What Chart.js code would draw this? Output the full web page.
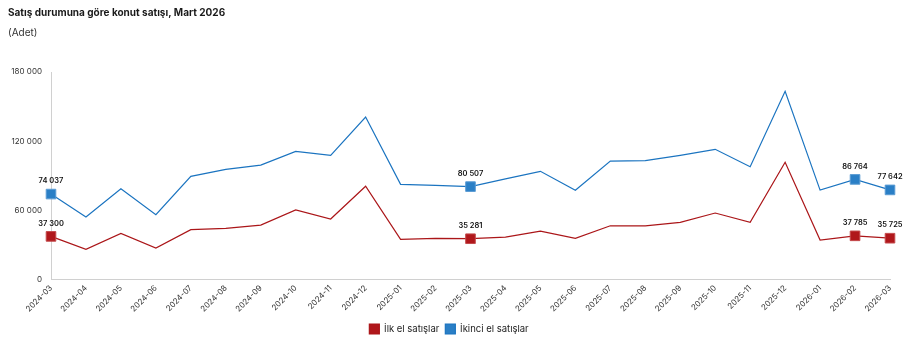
<!DOCTYPE html>
<html>
<head>
<meta charset="utf-8">
<script src="https://cdn.jsdelivr.net/npm/chart.js@4"></script>
<style>
  html, body { margin: 0; padding: 0; background: #fff; }
  #wrap { width: 916px; height: 360px; }
</style>
</head>
<body>
<div id="wrap"><canvas id="chart" width="916" height="360"></canvas></div>
<script>
const months = ['2024-03','2024-04','2024-05','2024-06','2024-07','2024-08','2024-09','2024-10','2024-11','2024-12',
  '2025-01','2025-02','2025-03','2025-04','2025-05','2025-06','2025-07','2025-08','2025-09','2025-10','2025-11','2025-12',
  '2026-01','2026-02','2026-03'];
const ilkEl = [37300, 26000, 39900, 27200, 43100, 44300, 47100, 60200, 52400, 80800,
  34700, 35600, 35281, 36700, 41900, 35600, 46500, 46500, 49500, 57600, 49500, 101600,
  34100, 37785, 35725];
const ikinciEl = [74037, 54100, 78700, 56100, 89400, 95500, 99200, 111100, 107700, 140900,
  82500, 81600, 80507, 87200, 93800, 77300, 102700, 103000, 107700, 112900, 97800, 163200,
  77500, 86764, 77642];
const yTicks = [0, 60000, 120000, 180000];
const markedIdx = [0, 12, 23, 24];

const fmt = v => String(v).replace(/\B(?=(\d{3})+(?!\d))/g, ' ');
const FONT = 'Inter, "Noto Sans", sans-serif';

const radii = months.map((m, i) => markedIdx.includes(i) ? 6.8 : 0);

// numbers above the marked points
const valueLabels = {
  id: 'valueLabels',
  afterDatasetsDraw(chart) {
    const ctx = chart.ctx;
    ctx.save();
    ctx.font = '600 7.5px ' + FONT;
    ctx.fillStyle = '#111';
    ctx.textAlign = 'center';
    ctx.textBaseline = 'middle';
    chart.data.datasets.forEach((ds, di) => {
      const meta = chart.getDatasetMeta(di);
      markedIdx.forEach(i => {
        const el = meta.data[i];
        ctx.fillText(fmt(ds.data[i]), el.x, el.y - 13);
      });
    });
    ctx.restore();
  }
};

new Chart(document.getElementById('chart'), {
  type: 'line',
  data: {
    labels: months,
    datasets: [{
      label: 'İlk el satışlar',
      data: ilkEl,
      borderColor: '#ab1619',
      backgroundColor: '#b0171b',
      borderWidth: 1.2,
      pointStyle: 'rect',
      pointRadius: radii,
      pointHoverRadius: radii,
      pointBackgroundColor: '#b0171b',
      pointBorderColor: '#c44a4c',
      pointBorderWidth: 1,
      tension: 0
    }, {
      label: 'İkinci el satışlar',
      data: ikinciEl,
      borderColor: '#1b74c0',
      backgroundColor: '#2a7fc6',
      borderWidth: 1.2,
      pointStyle: 'rect',
      pointRadius: radii,
      pointHoverRadius: radii,
      pointBackgroundColor: '#2a7fc6',
      pointBorderColor: '#5b9cd4',
      pointBorderWidth: 1,
      tension: 0
    }]
  },
  options: {
    responsive: false,
    animation: false,
    layout: { padding: { left: 8, right: 26, top: 6, bottom: 16 } },
    scales: {
      x: {
        offset: false,
        grid: { display: false, drawTicks: false },
        border: { display: true, color: '#d0d0d0' },
        ticks: {
          autoSkip: false,
          maxRotation: 45,
          minRotation: 45,
          color: '#333',
          font: { family: FONT, size: 8 },
          padding: 4
        }
      },
      y: {
        min: 0,
        max: 180000,
        afterBuildTicks: axis => { axis.ticks = yTicks.map(v => ({ value: v })); },
        afterFit: axis => { axis.width = 43; },
        grid: { display: false, drawTicks: false },
        border: { display: true, color: '#d0d0d0' },
        ticks: {
          color: '#333',
          font: { family: FONT, size: 8 },
          padding: 9,
          callback: v => fmt(v)
        }
      }
    },
    plugins: {
      title: {
        display: true,
        text: 'Satış durumuna göre konut satışı, Mart 2026',
        align: 'start',
        color: '#1a1a1a',
        font: { family: FONT, size: 10, weight: 'bold' },
        padding: { top: 1, bottom: 8 }
      },
      subtitle: {
        display: true,
        text: '(Adet)',
        align: 'start',
        color: '#333',
        font: { family: FONT, size: 10 },
        padding: { top: 0, bottom: 33 }
      },
      legend: {
        position: 'bottom',
        labels: {
          boxWidth: 10,
          boxHeight: 10,
          color: '#222',
          font: { family: FONT, size: 9.5 },
          padding: 6
        }
      },
      tooltip: { enabled: false }
    }
  },
  plugins: [valueLabels]
});
</script>
</body>
</html>
